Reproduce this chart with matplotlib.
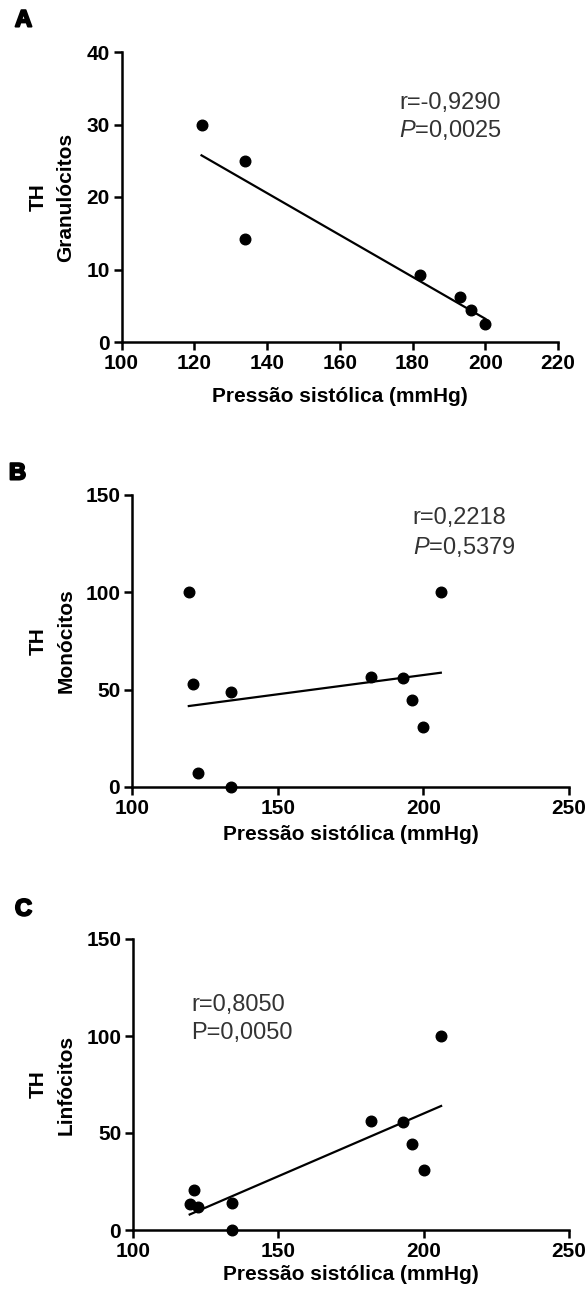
import numpy as np
from matplotlib import pyplot as plt
from matplotlib import patheffects

plt.rcParams['font.family'] = ['Liberation Sans', 'DejaVu Sans']
plt.rcParams['font.weight'] = 'bold'
plt.rcParams['mathtext.fontset'] = 'custom'
plt.rcParams['mathtext.rm'] = 'Liberation Sans:weight=normal'
plt.rcParams['mathtext.it'] = 'Liberation Sans:italic:weight=normal'

# data
pressao_a = [122, 134, 134, 182, 193, 196, 200]
granulocitos = [30, 25, 14.2, 9.2, 6.2, 4.4, 2.5]
pressao_bc = [119.5, 121, 122.5, 134, 134, 182, 193, 196, 200, 206]
monocitos = [100, 53, 7.4, 49, 0, 56.6, 56, 44.6, 31, 100]
linfocitos = [13.4, 20.6, 12, 13.7, 0, 56.2, 55.9, 44.3, 30.9, 100]

xticks_a = [100, 120, 140, 160, 180, 200, 220]
yticks_a = [0, 10, 20, 30, 40]
xticks_bc = [100, 150, 200, 250]
yticks_bc = [0, 50, 100, 150]

letras = ['A', 'B', 'C']
ylabels = ['Granulócitos', 'Monócitos', 'Linfócitos']
xlabel = 'Pressão sistólica (mmHg)'
r_txt = ['r=-0,9290', 'r=0,2218', 'r=0,8050']
p_txt = [r'$\mathit{P}$=0,0025', r'$\mathit{P}$=0,5379', 'P=0,0050']

W, H = 585, 1298
fig = plt.figure(figsize=(W / 100, H / 100), dpi=100)

# axes boxes in pixels: left, right, top, bottom
boxes = [(121.5, 558, 52, 342), (132, 569, 495, 787), (133, 569, 939, 1230)]
letter_pos = [(15, 20), (9, 473), (15, 909)]
xlabel_off = [55, 48, 45]
text_pos = [(0.636, 0.824, 0.731), (0.642, 0.921, 0.822), (0.133, 0.773, 0.677)]


def panel(i, x, y, xticks, yticks):
    l, r, t, b = boxes[i]
    ax = fig.add_axes([l / W, 1 - b / H, (r - l) / W, (b - t) / H])
    ax.scatter(x, y, s=58, color='black', zorder=5, clip_on=False)
    # linear regression line over the data range
    a1, a0 = np.polyfit(x, y, 1)
    xs = np.array([min(x), max(x)])
    ax.plot(xs, a0 + a1 * xs, color='black', lw=1.6)
    ax.set_xlim(xticks[0], xticks[-1])
    ax.set_ylim(yticks[0], yticks[-1])
    ax.set_xticks(xticks)
    ax.set_yticks(yticks)
    ax.spines['top'].set_visible(False)
    ax.spines['right'].set_visible(False)
    ax.spines['left'].set_linewidth(1.8)
    ax.spines['bottom'].set_linewidth(1.8)
    ax.tick_params(direction='out', length=5.5, width=1.8, labelsize=15, pad=3)
    # stats text
    tx, ty1, ty2 = text_pos[i]
    ax.text(tx, ty1, r_txt[i], transform=ax.transAxes, fontsize=17, fontweight='normal',
            color='#333333', va='center', ha='left')
    ax.text(tx, ty2, p_txt[i], transform=ax.transAxes, fontsize=17, fontweight='normal',
            color='#333333', va='center', ha='left')
    # labels
    cx = (l + r) / 2
    fig.text(cx / W, 1 - (b + xlabel_off[i]) / H, xlabel, fontsize=15, ha='center', va='center')
    cy = (t + b) / 2
    fig.text(38 / W, 1 - cy / H, 'TH', fontsize=15, rotation=90, ha='center', va='center')
    fig.text(66 / W, 1 - cy / H, ylabels[i], fontsize=15, rotation=90, ha='center', va='center')
    lx, ly = letter_pos[i]
    fig.text(lx / W, 1 - ly / H, letras[i], fontsize=17, ha='left', va='center',
             path_effects=[patheffects.withStroke(linewidth=1.5, foreground='black')])
    return ax


panel(0, pressao_a, granulocitos, xticks_a, yticks_a)
panel(1, pressao_bc, monocitos, xticks_bc, yticks_bc)
panel(2, pressao_bc, linfocitos, xticks_bc, yticks_bc)

plt.savefig('out.png', dpi=100)
